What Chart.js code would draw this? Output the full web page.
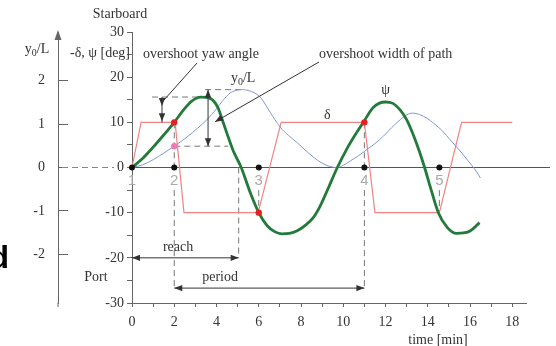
<!DOCTYPE html>
<html>
<head>
<meta charset="utf-8">
<script src="https://cdn.jsdelivr.net/npm/chart.js@4.4.1/dist/chart.umd.min.js"></script>
<style>
  html, body { margin: 0; padding: 0; background: #fff; }
  canvas { display: block; }
</style>
</head>
<body>
<canvas id="chart" width="556" height="346"></canvas>
<script>
// Zig-zag manoeuvre record, time in minutes

// heading psi [deg]
const psiTime = [0, 0.5, 1, 1.5, 2, 2.45, 2.8, 3.25, 3.7, 4.05, 4.3, 4.55, 4.8, 5.17, 5.6,
  6.0, 6.4, 6.75, 7.1, 7.45, 7.82, 8.2, 8.58, 8.9, 9.24, 9.72, 10.19, 10.6, 10.95, 11.42,
  11.99, 12.35, 12.7, 13.0, 13.3, 13.6, 13.85, 14.15, 14.5, 14.93, 15.36, 15.7, 16.02, 16.45];
const psiDeg = [0, 2.0, 4.5, 7.2, 10, 12.8, 14.6, 15.6, 15.3, 13.4, 10.2, 6.8, 3.6, 0, -5.6,
  -10, -12.9, -14.2, -14.7, -14.6, -14.0, -12.8, -11.1, -8.6, -5.1, 0, 4.3, 7.5, 10, 13.3,
  14.5, 14.2, 12.7, 10.6, 7.4, 3.6, 0, -4.8, -10, -13.3, -14.6, -14.5, -14.0, -12.2];

// lateral deviation of the path y0/L
const pathTime = [0, 0.5, 1, 1.5, 2, 2.6, 3.1, 3.55, 4.0, 4.3, 4.64, 4.9, 5.15, 5.5, 6.07,
  6.54, 7.01, 7.4, 7.82, 8.2, 8.58, 9.0, 9.38, 9.72, 10.0, 10.33, 10.66, 11.14, 11.5, 11.9,
  12.3, 12.7, 13.0, 13.27, 13.6, 14.0, 14.27, 14.7, 15.07, 15.5, 15.88, 16.2, 16.49];
const pathWidth = [0, 0.06, 0.18, 0.33, 0.49, 0.7, 0.9, 1.1, 1.35, 1.54, 1.71, 1.77, 1.79, 1.77, 1.62,
  1.27, 0.93, 0.74, 0.57, 0.4, 0.24, 0.1, 0.02, 0, 0.05, 0.15, 0.25, 0.42, 0.55, 0.72,
  0.92, 1.1, 1.21, 1.25, 1.22, 1.12, 1.02, 0.84, 0.63, 0.4, 0.17, -0.02, -0.24];

// rudder angle delta [deg]
const rudderTime = [0, 0.43, 2.04, 2.46, 5.97, 7.06, 11.0, 11.5, 14.55, 15.6, 18.0];
const rudderDeg = [0, 10, 10, -10, -10, 10, 10, -10, -10, 10, 10];

// rudder execute instants 1..5
const checkTimes = [0, 2, 6, 11, 14.55];
const checkLabels = ['1', '2', '3', '4', '5'];
// heading reaches the rudder angle
const execTimes = [2, 6, 11];
const execPsi = [10, -10, 10];

const timeTicks = [0, 1, 2, 3, 4, 5, 6, 7, 8, 9, 10, 11, 12, 13, 14, 15, 16, 17, 18];
const degTicks = [-30, -25, -20, -15, -10, -5, 0, 5, 10, 15, 20, 25, 30];
const widthTicks = [-2, -1, 0, 1, 2];

// characteristic values
const psiPeak = 15.6;       // first overshoot of heading
const pathPeak = 1.79;      // first maximum of y0/L
const pathAtExec = 0.49;    // y0/L at the second rudder execute
const reachEnd = 5.05;      // end of reach
const reachLevel = -20;
const periodLevel = -26.7;

const serif = 'Liberation Serif, Times New Roman, serif';
const ink = '#333';
const axisGrey = '#666';

const pts = (xs, ys) => xs.map((x, i) => ({ x, y: ys[i] }));

function segment(ctx, x1, y1, x2, y2) {
  ctx.beginPath(); ctx.moveTo(x1, y1); ctx.lineTo(x2, y2); ctx.stroke();
}
function head(ctx, x, y, ang, len = 8, half = 3.2) {
  ctx.save(); ctx.translate(x, y); ctx.rotate(ang);
  ctx.beginPath(); ctx.moveTo(0, 0); ctx.lineTo(-len, -half); ctx.lineTo(-len, half);
  ctx.closePath(); ctx.fill(); ctx.restore();
}
function dimension(ctx, x1, y1, x2, y2) {
  segment(ctx, x1, y1, x2, y2);
  const a = Math.atan2(y2 - y1, x2 - x1);
  head(ctx, x2, y2, a);
  head(ctx, x1, y1, a + Math.PI);
}
// "y0/L" with a subscript zero, centred on (cx, cy)
function yOverL(ctx, cx, cy) {
  ctx.save();
  ctx.textBaseline = 'middle'; ctx.textAlign = 'left';
  const big = '14px ' + serif, small = '10px ' + serif;
  ctx.font = big; const wy = ctx.measureText('y').width; const wl = ctx.measureText('/L').width;
  ctx.font = small; const w0 = ctx.measureText('0').width;
  let x = cx - (wy + w0 + wl) / 2;
  ctx.font = big; ctx.fillText('y', x, cy); x += wy;
  ctx.font = small; ctx.fillText('0', x, cy + 4); x += w0;
  ctx.font = big; ctx.fillText('/L', x, cy);
  ctx.restore();
}

const zigzagMarks = {
  id: 'zigzagMarks',
  beforeDatasetsDraw(chart) {
    const { ctx } = chart;
    const X = v => chart.scales.x.getPixelForValue(v);
    const Y = v => chart.scales.y.getPixelForValue(v);
    const W = v => chart.scales.y1.getPixelForValue(v);
    ctx.save();
    // zero line
    ctx.strokeStyle = '#555'; ctx.lineWidth = 1.2;
    segment(ctx, X(0), Y(0), 550, Y(0));
    ctx.lineWidth = 1; ctx.strokeStyle = '#888'; ctx.setLineDash([6, 4]);
    segment(ctx, 62, Y(0), 114, Y(0));

    // guide lines
    ctx.strokeStyle = '#777';
    segment(ctx, X(0.95), Y(psiPeak), X(3.25), Y(psiPeak));
    segment(ctx, X(3.46), W(pathPeak), X(5.15), W(pathPeak));
    segment(ctx, X(2), W(pathAtExec), X(4.55), W(pathAtExec));
    [2, 11].forEach(t => {
      segment(ctx, X(t), Y(10), X(t), Y(0));
      segment(ctx, X(t), Y(-5), X(t), Y(periodLevel));
    });
    [6, 14.55].forEach(t => segment(ctx, X(t), Y(-5), X(t), Y(-10)));
    segment(ctx, X(reachEnd), Y(0), X(reachEnd), Y(reachLevel));
    ctx.restore();
  },
  afterDatasetsDraw(chart) {
    const { ctx } = chart;
    const X = v => chart.scales.x.getPixelForValue(v);
    const Y = v => chart.scales.y.getPixelForValue(v);
    const W = v => chart.scales.y1.getPixelForValue(v);
    ctx.save();
    ctx.strokeStyle = ink; ctx.fillStyle = ink; ctx.lineWidth = 1;

    // left axis arrow and extension
    ctx.strokeStyle = axisGrey; ctx.fillStyle = axisGrey;
    const ax = chart.scales.y1.right;
    segment(ctx, ax, Y(-30), ax, Y(-30) + 4);
    head(ctx, ax, 30, -Math.PI / 2, 10, 3.5);

    // dimension arrows
    ctx.strokeStyle = ink; ctx.fillStyle = ink;
    dimension(ctx, X(0), Y(reachLevel), X(reachEnd), Y(reachLevel));
    dimension(ctx, X(2), Y(periodLevel), X(11), Y(periodLevel));
    dimension(ctx, X(3.6), W(pathPeak), X(3.6), W(pathAtExec));
    // overshoot yaw angle
    segment(ctx, X(1.42), Y(psiPeak), X(1.42), Y(10));
    head(ctx, X(1.42), Y(psiPeak) + 9, Math.PI / 2);
    head(ctx, X(1.42), Y(10) - 1, Math.PI / 2);
    segment(ctx, 197, 63, X(1.42) + 2, Y(psiPeak) + 3);
    // overshoot width of path leader
    segment(ctx, 319, 62, X(3.6) + 7, W(1.05));
    head(ctx, X(3.6) + 7, W(1.05), Math.atan2(W(1.05) - 62, X(3.6) + 7 - 319));

    // texts
    ctx.font = '14px ' + serif; ctx.textBaseline = 'middle';
    ctx.textAlign = 'center';
    ctx.fillText('Starboard', 120, 14);
    ctx.fillText('-δ, ψ [deg]', 100, 53);
    ctx.fillText('Port', 96, 277);
    ctx.fillText('time [min]', 438, 340);
    ctx.fillText('reach', X(2.18), Y(-17.6));
    ctx.fillText('period', X(4.17), Y(-24.3));
    ctx.fillText('δ', X(9.25), Y(11.5));
    ctx.fillText('ψ', X(12.0), Y(17));
    ctx.textAlign = 'left';
    ctx.fillText('overshoot yaw angle', 143, 54);
    ctx.fillText('overshoot width of path', 319, 54);
    yOverL(ctx, 37, 49);
    yOverL(ctx, X(5.26), W(2.05));

    // execute numbers
    ctx.font = '15px Liberation Sans, Arial, sans-serif';
    ctx.fillStyle = '#aaa'; ctx.textAlign = 'center';
    checkTimes.forEach((t, i) => ctx.fillText(checkLabels[i], X(t), Y(-3)));

    // letter cut at the left border
    ctx.fillStyle = '#000'; ctx.font = 'bold 32px Liberation Sans, Arial, sans-serif';
    ctx.textAlign = 'right'; ctx.textBaseline = 'alphabetic';
    ctx.fillText('d', 9, 268);
    ctx.restore();
  }
};

const tickFont = { family: serif, size: 14 };

new Chart(document.getElementById('chart'), {
  type: 'line',
  data: {
    datasets: [
      {
        type: 'scatter', label: 'execute', order: 0, clip: false,
        data: pts(checkTimes, checkTimes.map(() => 0)),
        pointRadius: 3, pointBackgroundColor: '#111', pointBorderWidth: 0, showLine: false
      },
      {
        type: 'scatter', label: 'psi = delta', order: 0, clip: false,
        data: pts(execTimes, execPsi),
        pointRadius: 3.2, pointBackgroundColor: '#e02424', pointBorderWidth: 0, showLine: false
      },
      {
        type: 'scatter', label: 'y0/L at execute', order: 0, clip: false, yAxisID: 'y1',
        data: [{ x: 2, y: pathAtExec }],
        pointRadius: 3.2, pointBackgroundColor: '#f07ab4', pointBorderWidth: 0, showLine: false
      },
      {
        label: 'ψ', order: 1, data: pts(psiTime, psiDeg), yAxisID: 'y',
        borderColor: '#237a3b', borderWidth: 2.8, pointRadius: 0,
        cubicInterpolationMode: 'monotone'
      },
      {
        label: 'y0/L', order: 2, data: pts(pathTime, pathWidth), yAxisID: 'y1',
        borderColor: '#8296d6', borderWidth: 1, pointRadius: 0,
        cubicInterpolationMode: 'monotone'
      },
      {
        label: 'δ', order: 3, data: pts(rudderTime, rudderDeg), yAxisID: 'y',
        borderColor: '#f08484', borderWidth: 1.2, pointRadius: 0, tension: 0
      }
    ]
  },
  options: {
    responsive: false,
    animation: false,
    devicePixelRatio: 1,
    layout: { padding: { top: 32, right: 30, left: 0, bottom: 0 } },
    plugins: { legend: { display: false }, tooltip: { enabled: false } },
    scales: {
      x: {
        type: 'linear', min: 0, max: 18.65,
        afterBuildTicks: s => { s.ticks = timeTicks.map(v => ({ value: v })); },
        afterFit: s => { s.height = 43; },
        grid: { drawOnChartArea: false, tickLength: 4, color: axisGrey },
        border: { color: axisGrey, width: 1 },
        ticks: {
          font: tickFont, color: ink, padding: 7, maxRotation: 0, autoSkip: false,
          callback: v => (v % 2 === 0 ? String(v) : '')
        }
      },
      y: {
        type: 'linear', position: 'left', weight: 0, min: -30, max: 30,
        afterBuildTicks: s => { s.ticks = degTicks.map(v => ({ value: v })); },
        afterFit: s => { s.width = 74; },
        grid: { drawOnChartArea: false, tickLength: 5, color: axisGrey },
        border: { color: axisGrey, width: 1 },
        ticks: {
          font: tickFont, color: ink, padding: 3, autoSkip: false,
          callback: v => (v % 10 === 0 ? String(v) : '')
        }
      },
      y1: {
        type: 'linear', position: 'left', weight: 1, min: -3.115, max: 3.115,
        afterBuildTicks: s => { s.ticks = widthTicks.map(v => ({ value: v })); },
        afterFit: s => { s.width = 58; },
        grid: { drawOnChartArea: false, tickLength: -10, color: axisGrey },
        border: { color: axisGrey, width: 1 },
        ticks: {
          font: tickFont, color: ink, padding: 23, autoSkip: false,
          callback: v => String(v)
        }
      }
    }
  },
  plugins: [zigzagMarks]
});
</script>
</body>
</html>
